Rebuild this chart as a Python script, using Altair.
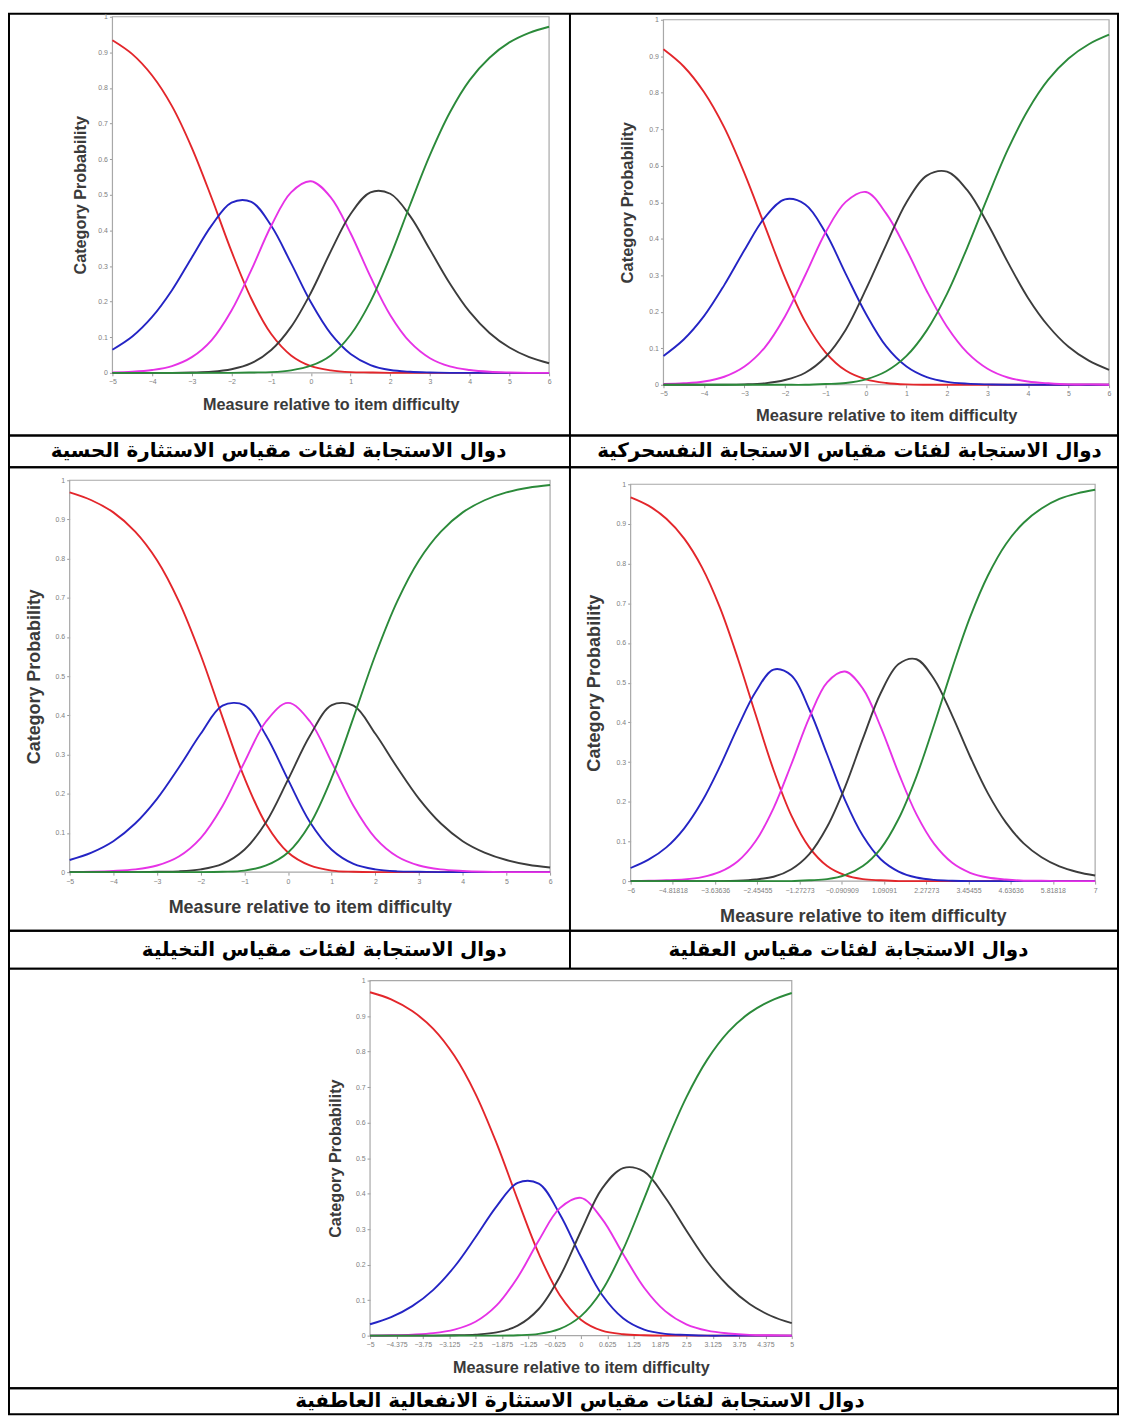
import altair as alt
import pandas as pd

CATEGORIES = ["Category 0", "Category 1", "Category 2", "Category 3", "Category 4"]
COLORS = ["#e3262b", "#2424c4", "#e632e6", "#3c3c3c", "#2b8a3a"]
Y_TICKS = [0, 0.1, 0.2, 0.3, 0.4, 0.5, 0.6, 0.7, 0.8, 0.9, 1]
X_TITLE = "Measure relative to item difficulty"
Y_TITLE = "Category Probability"

CAPTIONS = [
    "دوال الاستجابة لفئات مقياس الاستثارة الحسية",
    "دوال الاستجابة لفئات مقياس الاستجابة النفسحركية",
    "دوال الاستجابة لفئات مقياس التخيلية",
    "دوال الاستجابة لفئات مقياس العقلية",
    "دوال الاستجابة لفئات مقياس الاستثارة الانفعالية العاطفية",
]

# ---- Panel 1 (الحسية) ----
P1_X = [-5, -4.5, -4, -3.5, -3, -2.5, -2, -1.5, -1, -0.5, 0, 0.5, 1, 1.5, 2, 2.5, 3, 3.5, 4, 4.5, 5, 5.5, 6]
P1_C0 = [0.934, 0.895, 0.835, 0.749, 0.632, 0.491, 0.341, 0.208, 0.109, 0.049, 0.019, 0.007, 0.002, 0.001, 0, 0, 0, 0, 0, 0, 0, 0, 0]
P1_C1 = [0.065, 0.102, 0.157, 0.232, 0.324, 0.414, 0.478, 0.480, 0.413, 0.308, 0.198, 0.110, 0.053, 0.022, 0.008, 0.003, 0.001, 0, 0, 0, 0, 0, 0]
P1_C2 = [0.001, 0.003, 0.008, 0.019, 0.044, 0.092, 0.175, 0.289, 0.413, 0.507, 0.538, 0.493, 0.392, 0.270, 0.162, 0.086, 0.041, 0.018, 0.008, 0.003, 0.001, 0, 0]
P1_C3 = [0, 0, 0, 0, 0.001, 0.003, 0.010, 0.027, 0.064, 0.129, 0.225, 0.341, 0.446, 0.507, 0.503, 0.440, 0.346, 0.251, 0.171, 0.112, 0.071, 0.044, 0.027]
P1_C4 = [0, 0, 0, 0, 0, 0, 0, 0.001, 0.002, 0.007, 0.020, 0.049, 0.107, 0.200, 0.327, 0.472, 0.612, 0.731, 0.822, 0.885, 0.928, 0.955, 0.972]
P1_TICKS = [-5, -4, -3, -2, -1, 0, 1, 2, 3, 4, 5, 6]
P1_DOMAIN = [-5, 6]

# ---- Panel 2 (النفسحركية) ----
P2_X = [-5, -4.5, -4, -3.5, -3, -2.5, -2, -1.5, -1, -0.5, 0, 0.5, 1, 1.5, 2, 2.5, 3, 3.5, 4, 4.5, 5, 5.5, 6]
P2_C0 = [0.919, 0.872, 0.802, 0.705, 0.579, 0.436, 0.293, 0.173, 0.089, 0.039, 0.015, 0.005, 0.001, 0, 0, 0, 0, 0, 0, 0, 0, 0, 0]
P2_C1 = [0.079, 0.124, 0.188, 0.273, 0.369, 0.458, 0.508, 0.494, 0.417, 0.304, 0.194, 0.105, 0.050, 0.021, 0.008, 0.003, 0.001, 0, 0, 0, 0, 0, 0]
P2_C2 = [0.002, 0.004, 0.009, 0.022, 0.050, 0.102, 0.187, 0.300, 0.417, 0.501, 0.528, 0.469, 0.370, 0.257, 0.159, 0.088, 0.044, 0.020, 0.009, 0.004, 0.001, 0.001, 0]
P2_C3 = [0, 0, 0, 0, 0.001, 0.004, 0.013, 0.033, 0.076, 0.151, 0.262, 0.384, 0.500, 0.573, 0.584, 0.533, 0.442, 0.336, 0.238, 0.161, 0.104, 0.066, 0.041]
P2_C4 = [0, 0, 0, 0, 0, 0, 0, 0, 0.002, 0.005, 0.015, 0.037, 0.079, 0.149, 0.249, 0.376, 0.513, 0.644, 0.753, 0.836, 0.894, 0.933, 0.959]
P2_TICKS = [-5, -4, -3, -2, -1, 0, 1, 2, 3, 4, 5, 6]
P2_DOMAIN = [-5, 6]

# ---- Panel 3 (التخيلية) ----
P3_X = [-5, -4.5, -4, -3.5, -3, -2.5, -2, -1.5, -1, -0.5, 0, 0.5, 1, 1.5, 2, 2.5, 3, 3.5, 4, 4.5, 5, 5.5, 6]
P3_C0 = [0.969, 0.949, 0.918, 0.869, 0.796, 0.691, 0.554, 0.395, 0.241, 0.122, 0.050, 0.017, 0.004, 0.001, 0, 0, 0, 0, 0, 0, 0, 0, 0]
P3_C1 = [0.031, 0.050, 0.079, 0.124, 0.187, 0.267, 0.353, 0.425, 0.426, 0.348, 0.236, 0.128, 0.057, 0.021, 0.007, 0.002, 0.001, 0, 0, 0, 0, 0, 0]
P3_C2 = [0, 0.001, 0.003, 0.007, 0.017, 0.040, 0.087, 0.169, 0.280, 0.385, 0.432, 0.385, 0.280, 0.169, 0.087, 0.040, 0.017, 0.007, 0.003, 0.001, 0, 0, 0]
P3_C3 = [0, 0, 0, 0, 0.001, 0.002, 0.007, 0.021, 0.057, 0.128, 0.236, 0.348, 0.426, 0.425, 0.353, 0.267, 0.187, 0.124, 0.079, 0.050, 0.031, 0.019, 0.012]
P3_C4 = [0, 0, 0, 0, 0, 0, 0, 0.001, 0.004, 0.017, 0.050, 0.122, 0.241, 0.395, 0.554, 0.691, 0.796, 0.869, 0.918, 0.949, 0.969, 0.981, 0.988]
P3_TICKS = [-5, -4, -3, -2, -1, 0, 1, 2, 3, 4, 5, 6]
P3_DOMAIN = [-5, 6]

# ---- Panel 4 (العقلية) ----
P4_X = [-6, -5.5, -5, -4.5, -4, -3.5, -3, -2.5, -2, -1.5, -1, -0.5, 0, 0.5, 1, 1.5, 2, 2.5, 3, 3.5, 4, 4.5, 5, 5.5, 6, 6.5, 7]
P4_C0 = [0.967, 0.946, 0.913, 0.863, 0.790, 0.689, 0.561, 0.419, 0.280, 0.165, 0.085, 0.038, 0.015, 0.005, 0.002, 0, 0, 0, 0, 0, 0, 0, 0, 0, 0, 0, 0]
P4_C1 = [0.033, 0.054, 0.085, 0.133, 0.201, 0.289, 0.388, 0.477, 0.533, 0.518, 0.433, 0.319, 0.204, 0.114, 0.055, 0.024, 0.009, 0.003, 0.001, 0, 0, 0, 0, 0, 0, 0, 0]
P4_C2 = [0, 0.001, 0.002, 0.004, 0.010, 0.023, 0.050, 0.101, 0.184, 0.295, 0.412, 0.501, 0.528, 0.485, 0.388, 0.272, 0.168, 0.093, 0.046, 0.021, 0.009, 0.004, 0.001, 0.001, 0, 0, 0]
P4_C3 = [0, 0, 0, 0, 0, 0, 0.001, 0.004, 0.011, 0.030, 0.068, 0.137, 0.237, 0.359, 0.474, 0.547, 0.559, 0.508, 0.417, 0.314, 0.221, 0.148, 0.095, 0.060, 0.037, 0.023, 0.014]
P4_C4 = [0, 0, 0, 0, 0, 0, 0, 0, 0, 0, 0.002, 0.005, 0.015, 0.038, 0.082, 0.157, 0.264, 0.396, 0.536, 0.665, 0.770, 0.849, 0.903, 0.939, 0.963, 0.977, 0.986]
P4_TICKS = [-6, -4.81818, -3.63636, -2.45455, -1.27273, -0.090909, 1.09091, 2.27273, 3.45455, 4.63636, 5.81818, 7]
P4_DOMAIN = [-6, 7]

# ---- Panel 5 (الانفعالية العاطفية) ----
P5_X = [-5, -4.5, -4, -3.5, -3, -2.5, -2, -1.5, -1, -0.5, 0, 0.5, 1, 1.5, 2, 2.5, 3, 3.5, 4, 4.5, 5]
P5_C0 = [0.967, 0.947, 0.914, 0.864, 0.788, 0.681, 0.542, 0.383, 0.231, 0.114, 0.045, 0.014, 0.004, 0.001, 0, 0, 0, 0, 0, 0, 0]
P5_C1 = [0.032, 0.052, 0.083, 0.129, 0.194, 0.277, 0.364, 0.430, 0.428, 0.342, 0.222, 0.115, 0.049, 0.017, 0.005, 0.002, 0, 0, 0, 0, 0]
P5_C2 = [0, 0.001, 0.003, 0.007, 0.017, 0.039, 0.085, 0.164, 0.268, 0.359, 0.388, 0.329, 0.230, 0.135, 0.069, 0.032, 0.014, 0.006, 0.002, 0.001, 0]
P5_C3 = [0, 0, 0, 0, 0.001, 0.003, 0.009, 0.028, 0.075, 0.166, 0.294, 0.414, 0.472, 0.462, 0.389, 0.296, 0.208, 0.139, 0.089, 0.056, 0.035]
P5_C4 = [0, 0, 0, 0, 0, 0, 0, 0.001, 0.005, 0.019, 0.055, 0.127, 0.242, 0.386, 0.536, 0.671, 0.778, 0.856, 0.909, 0.943, 0.965]
P5_TICKS = [-5, -4.375, -3.75, -3.125, -2.5, -1.875, -1.25, -0.625, 0, 0.625, 1.25, 1.875, 2.5, 3.125, 3.75, 4.375, 5]
P5_DOMAIN = [-5, 5]

# ---------------- layout / style ----------------
FONT = "Liberation Sans"
CAP_FONT = "DejaVu Sans"
CAP_SIZE = 20
TABLE_W = 1115
DIV_X = 564


def make_panel(xs, series, x_domain, x_ticks, H, pl, pr, pt, pb, xpad, ypad, tsize):
    rows = []
    for cat, vals in zip(CATEGORIES, series):
        for xv, pv in zip(xs, vals):
            rows.append({"x": xv, "p": pv, "cat": cat})
    df = pd.DataFrame(rows)
    xscale = alt.Scale(domain=x_domain, range=[pl, pr], nice=False, zero=False)
    yscale = alt.Scale(domain=[0, 1], range=[pb, pt], nice=False, zero=False)
    common = dict(
        labelFont=FONT, labelFontSize=7, labelColor="#808080",
        tickColor="#9a9a9a", tickSize=3, labelPadding=2, domain=False, grid=False,
        titleFont=FONT, titleFontWeight="bold", titleFontSize=tsize, titleColor="#3a3a3a",
        labelOverlap=False, labelFlush=False, format=".6~g",
    )
    xaxis = alt.Axis(orient="bottom", values=x_ticks, title=X_TITLE,
                     offset=-(H - pb), titlePadding=xpad, **common)
    yaxis = alt.Axis(orient="left", values=Y_TICKS, title=Y_TITLE,
                     offset=-pl, titlePadding=ypad, **common)
    X = alt.X("x:Q", scale=xscale, axis=xaxis)
    Y = alt.Y("p:Q", scale=yscale, axis=yaxis)
    frame_df = pd.DataFrame({"x": [x_domain[0]], "x_end": [x_domain[1]], "p": [0], "p_end": [1]})
    frame = alt.Chart(frame_df).mark_rect(fillOpacity=0, stroke="#a8a8a8", strokeWidth=1.2).encode(
        x=X, x2=alt.X2("x_end"), y=Y, y2=alt.Y2("p_end"))
    lines = alt.Chart(df).mark_line(interpolate="catmull-rom", strokeWidth=1.9).encode(
        x=X, y=Y,
        color=alt.Color("cat:N", scale=alt.Scale(domain=CATEGORIES, range=COLORS), legend=None),
    )
    return alt.layer(frame, lines)


def divider(H):
    return alt.Chart(pd.DataFrame({"d": [0]})).mark_rule(color="black", strokeWidth=2).encode(
        x=alt.value(DIV_X), y=alt.value(0), y2=alt.value(H))


def caption(text, cx, cy):
    return alt.Chart(pd.DataFrame({"t": [text]})).mark_text(
        font=CAP_FONT, fontWeight="bold", fontSize=CAP_SIZE, color="black",
        align="center", baseline="middle").encode(
        text="t:N", x=alt.value(cx), y=alt.value(cy))


H1, H2, H3 = 424, 466, 422
C1H, C2H, C3H = 32, 38, 26

p1 = make_panel(P1_X, [P1_C0, P1_C1, P1_C2, P1_C3, P1_C4], P1_DOMAIN, P1_TICKS,
                H1, 104, 543, 3, 361, 12, 9, 16.3)
p2 = make_panel(P2_X, [P2_C0, P2_C1, P2_C2, P2_C3, P2_C4], P2_DOMAIN, P2_TICKS,
                H1, 658, 1106, 6, 373, 11, 13, 16.6)
p3 = make_panel(P3_X, [P3_C0, P3_C1, P3_C2, P3_C3, P3_C4], P3_DOMAIN, P3_TICKS,
                H2, 61, 544, 13, 407, 15, 12, 18)
p4 = make_panel(P4_X, [P4_C0, P4_C1, P4_C2, P4_C3, P4_C4], P4_DOMAIN, P4_TICKS,
                H2, 625, 1092, 17, 416, 15, 13, 18.2)
p5 = make_panel(P5_X, [P5_C0, P5_C1, P5_C2, P5_C3, P5_C4], P5_DOMAIN, P5_TICKS,
                H3, 363, 787, 12, 369, 12, 12, 16.3)


def row(*layers, H):
    return alt.layer(*layers).resolve_scale(x="independent", y="independent").resolve_axis(
        x="independent", y="independent").properties(width=TABLE_W, height=H)


row1 = row(p1, p2, divider(H1), H=H1)
cap1 = alt.layer(caption(CAPTIONS[0], 271, 16), caption(CAPTIONS[1], 845, 16),
                 divider(C1H)).properties(width=TABLE_W, height=C1H)
row2 = row(p3, p4, divider(H2), H=H2)
cap2 = alt.layer(caption(CAPTIONS[2], 317, 19), caption(CAPTIONS[3], 844, 19),
                 divider(C2H)).properties(width=TABLE_W, height=C2H)
row3 = row(p5, H=H3)
cap3 = alt.layer(caption(CAPTIONS[4], 574, 13)).properties(width=TABLE_W, height=C3H)

chart = alt.vconcat(row1, cap1, row2, cap2, row3, cap3, spacing=0, bounds="flush").properties(
    padding=0, background="white").configure_view(stroke="black", strokeWidth=2)

chart.save("out.html", embed_options={"renderer": "svg", "actions": False})
